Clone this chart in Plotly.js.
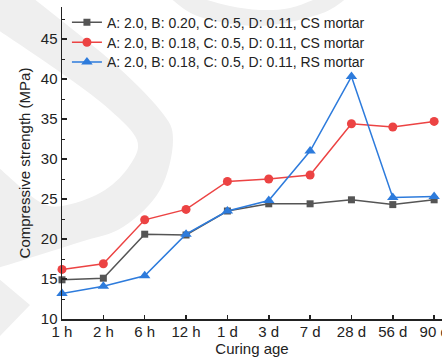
<!DOCTYPE html>
<html>
<head>
<meta charset="utf-8">
<script src="https://cdn.plot.ly/plotly-3.0.1.min.js"></script>
<style>html,body{margin:0;padding:0;background:#fff;}#chart{width:442px;height:358px;}</style>
</head>
<body>
<div id="chart"></div>
<script>
var categories = ["1 h", "2 h", "6 h", "12 h", "1 d", "3 d", "7 d", "28 d", "56 d", "90 d"];
var seriesNames = [
  "A: 2.0, B: 0.20, C: 0.5, D: 0.11, CS mortar",
  "A: 2.0, B: 0.18, C: 0.5, D: 0.11, CS mortar",
  "A: 2.0, B: 0.18, C: 0.5, D: 0.11, RS mortar"
];
var csB020 = [14.9, 15.1, 20.6, 20.5, 23.5, 24.4, 24.4, 24.9, 24.3, 24.9];
var csB018 = [16.2, 16.9, 22.4, 23.7, 27.2, 27.5, 28.0, 34.4, 34.0, 34.7];
var rsB018 = [13.2, 14.1, 15.4, 20.6, 23.5, 24.8, 31.0, 40.3, 25.2, 25.3];

var colors = ["#555555", "#ec4343", "#2d7bdc"];
var symbols = ["square", "circle", "triangle-up"];
var sizes = [7, 9, 10];
var values = [csB020, csB018, rsB018];
var legendIds = ["legend", "legend2", "legend3"];

var traces = values.map(function (v, i) {
  return {
    x: categories,
    y: v,
    name: seriesNames[i],
    legend: legendIds[i],
    type: "scatter",
    mode: "lines+markers",
    cliponaxis: false,
    line: {color: colors[i], width: 1.5},
    marker: {symbol: symbols[i], size: sizes[i], color: colors[i]}
  };
});

/* plot area in pixels (from margins) */
var W = 442, H = 358, M = {l: 62, r: 0, t: 7, b: 39};
var pw = W - M.l - M.r, ph = H - M.t - M.b;
function px(x) { return ((x - M.l) / pw).toFixed(4); }
function py(y) { return ((H - M.b - y) / ph).toFixed(4); }
function pt(p) { return px(p[0]) + "," + py(p[1]); }
/* smooth curve through pixel points (Catmull-Rom -> cubic) */
function curve(pts) {
  var s = "";
  for (var i = 0; i < pts.length - 1; i++) {
    var p0 = pts[Math.max(i - 1, 0)], p1 = pts[i], p2 = pts[i + 1], p3 = pts[Math.min(i + 2, pts.length - 1)];
    var c1 = [p1[0] + (p2[0] - p0[0]) / 6, p1[1] + (p2[1] - p0[1]) / 6];
    var c2 = [p2[0] - (p3[0] - p1[0]) / 6, p2[1] - (p3[1] - p1[1]) / 6];
    s += " C" + pt(c1) + " " + pt(c2) + " " + pt(p2);
  }
  return s;
}
/* light grey background watermark */
var wmOuter = [[33, -2], [110, 60], [160, 110], [173, 140], [160, 190], [123, 227], [77, 243], [-2, 268]];
var wmInner = [[-2, 167], [40, 202], [67, 205], [105, 190], [130, 165], [137, 140], [110, 110], [67, 77], [-2, 30]];
var wmPath = "M" + pt([-2, -2]) + " L" + pt(wmOuter[0]) + curve(wmOuter) + " L" + pt(wmInner[0]) + curve(wmInner) + " Z";
var triPath = "M" + pt([-2, 278]) + " L" + pt([30, 305]) + " L" + pt([-2, 338]) + " Z";
var arcOuter = [[170, -2], [200, 17], [260, 26], [320, 14], [347, -2]];
var arcInner = [[318, -2], [290, 8], [260, 10], [230, 6], [200, -2]];
var arcPath = "M" + pt(arcOuter[0]) + curve(arcOuter) + " L" + pt(arcInner[0]) + curve(arcInner) + " Z";
var wmStyle = {type: "path", xref: "paper", yref: "paper", layer: "below", fillcolor: "#efefef", line: {width: 0}};
var shapes = [wmPath, triPath, arcPath].map(function (p) {
  return Object.assign({}, wmStyle, {path: p});
});

var font = "Liberation Sans, Arial, sans-serif";
var legendFont = {family: font, size: 14, color: "#222"};
var legendRowsPx = [22.7, 42.7, 62.3];
function legendAt(rowPx) {
  return {
    x: 0.013, y: (H - M.b - rowPx) / ph, xanchor: "left", yanchor: "middle",
    bgcolor: "rgba(0,0,0,0)", borderwidth: 0, font: legendFont
  };
}

var layout = {
  width: W,
  height: H,
  margin: M,
  paper_bgcolor: "#ffffff",
  plot_bgcolor: "rgba(0,0,0,0)",
  font: {family: font, color: "#222"},
  showlegend: true,
  legend: legendAt(legendRowsPx[0]),
  legend2: legendAt(legendRowsPx[1]),
  legend3: legendAt(legendRowsPx[2]),
  shapes: shapes,
  xaxis: {
    type: "category",
    range: [0, 9.19],
    showline: true, linecolor: "#222", linewidth: 1.5,
    ticks: "inside", ticklen: 4.5, tickwidth: 1.5, tickcolor: "#222",
    ticklabelstandoff: -2,
    showgrid: false, zeroline: false,
    tickfont: {family: font, size: 15, color: "#222"},
    title: {text: "Curing age", font: {family: font, size: 15, color: "#222"}, standoff: 0}
  },
  yaxis: {
    range: [10, 49],
    dtick: 5, tick0: 0,
    showline: true, linecolor: "#222", linewidth: 1.5,
    ticks: "inside", ticklen: 4.5, tickwidth: 1.5, tickcolor: "#222",
    minor: {dtick: 2.5, ticks: "inside", ticklen: 2.5, tickwidth: 1, tickcolor: "#222"},
    showgrid: false, zeroline: false,
    tickfont: {family: font, size: 15, color: "#222"},
    title: {text: "Compressive strength (MPa)", font: {family: font, size: 15, color: "#222"}, standoff: 6}
  }
};

Plotly.newPlot("chart", traces, layout, {displayModeBar: false, staticPlot: true});
</script>
</body>
</html>
